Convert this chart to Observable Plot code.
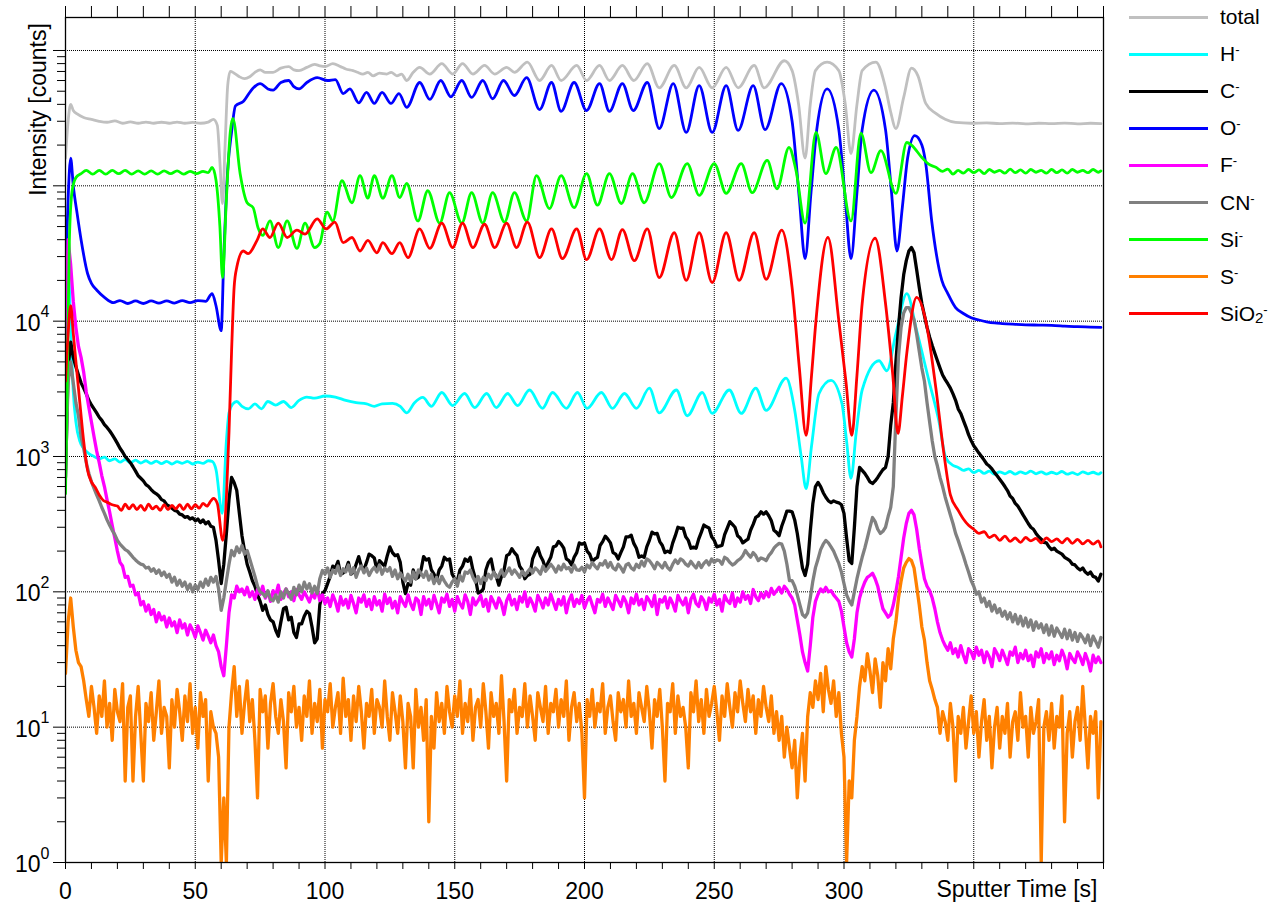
<!DOCTYPE html>
<html><head><meta charset="utf-8">
<script src="https://cdn.jsdelivr.net/npm/d3@7"></script>
<script src="https://cdn.jsdelivr.net/npm/@observablehq/plot@0.6"></script>
<style>
body{margin:0;background:#fff;font-family:"Liberation Sans",Arial,sans-serif;}
#wrap{position:relative;width:1276px;height:907px;overflow:hidden;}
#legend{position:absolute;left:1129px;top:0;width:147px;height:340px;}
.item{position:absolute;left:0;width:147px;height:2px;}
.sw{position:absolute;left:0;top:-1.5px;width:79px;height:3px;}
.lb{position:absolute;left:91px;top:-12px;font-size:21px;line-height:24px;white-space:nowrap;color:#000;}
.lb sup{font-size:13px;vertical-align:7px;line-height:0;}
.lb sub{font-size:15px;vertical-align:-2px;line-height:0;}
</style></head><body><div id="wrap"><div id="chart"></div><div id="legend"></div></div>
<script>
// ---------- data ----------
const seriesNames = ["total","H-","C-","O-","F-","CN-","Si-","S-","SiO2-"];
const seriesColors = ["#c0c0c0","#00ffff","#000000","#0000ff","#ff00ff","#808080","#00ff00","#ff8000","#ff0000"];
const legendHtml = ["total","H<sup>-</sup>","C<sup>-</sup>","O<sup>-</sup>","F<sup>-</sup>","CN<sup>-</sup>","Si<sup>-</sup>","S<sup>-</sup>","SiO<sub>2</sub><sup>-</sup>"];

const xTickLabels = [0,50,100,150,200,250,300];
const xGrid = [50,100,150,200,250,300,350];
const yDecades = [1,10,100,1000,10000,100000,1000000];
const yLabelDecades = [1,10,100,1000,10000];
const yLabelExponents = ["0","1","2","3","4"];
const xTitle = "Sputter Time [s]";
const yTitle = "Intensity [counts]";

// [time s, counts]
const totalPts = [[0,1.6e5],[1,3.0e5],[2,4.0e5],[3,3.6e5],[4.5,3.4e5],[7,3.2e5],[10,3.1e5],[13,3.0e5],[16,2.95e5],[19,3.02e5],[22,2.9e5],[25,2.97e5],[28,2.9e5],[31,2.96e5],[34,2.9e5],[37,2.95e5],[40,2.9e5],[43,2.96e5],[46,2.9e5],[49,2.94e5],[52,2.9e5],[55,2.96e5],[57,3.1e5],[58.5,2.8e5],[59.5,1.5e5],[60.5,7.4e4],[61.5,2.0e5],[62.5,5.5e5],[63.5,7.0e5],[65,6.8e5],[67,6.4e5],[69,6.2e5],[71,6.4e5],[73,6.9e5],[75,7.2e5],[77,6.9e5],[80,6.9e5],[83,7.4e5],[86,7.6e5],[88,7.2e5],[90,7.1e5],[93,7.5e5],[96,7.9e5],[98,7.7e5],[100,7.6e5],[103,8.0e5],[106,7.6e5],[108,7.3e5],[110.8,7.1e5],[112.5,6.9e5],[114.6,6.7e5],[116.5,6.9e5],[118.5,6.5e5],[121,6.8e5],[123.8,6.7e5],[125.5,6.9e5],[127.7,6.5e5],[129.5,6.7e5],[131.5,6.0e5],[134,6.9e5],[136.5,7.5e5],[140.4,6.7e5],[145,8.0e5],[149.2,6.7e5],[153,8.0e5],[157,6.7e5],[161.5,7.75e5],[165.4,6.7e5],[170,7.5e5],[173,6.9e5],[178,8.2e5],[182.7,6.0e5],[187.3,7.75e5],[191,6.0e5],[197,7.75e5],[200.8,6.0e5],[205.8,7.75e5],[209.6,6.0e5],[214.6,7.75e5],[219,6.0e5],[224.2,8.0e5],[228.8,5.3e5],[234.6,7.75e5],[239.2,5.3e5],[244.2,7.5e5],[249.2,5.3e5],[254.6,7.5e5],[259.2,5.3e5],[265.4,7.75e5],[269.2,5.3e5],[277,8.4e5],[280,7.1e5],[282.5,4.0e5],[285,1.6e5],[287,4.0e5],[289,7.1e5],[293.5,8.2e5],[298,7.1e5],[300.5,4.0e5],[302.7,1.73e5],[305,4.0e5],[307,7.1e5],[312.3,8.2e5],[316,5.3e5],[318,3.5e5],[320,2.65e5],[323,4.5e5],[326,7.4e5],[328.5,6.5e5],[331.5,4.06e5],[335.4,3.43e5],[339,3.1e5],[343,2.94e5],[349,2.9e5],[355,2.92e5],[360,2.88e5],[365,2.91e5],[370,2.87e5],[375,2.9e5],[380,2.88e5],[385,2.91e5],[390,2.87e5],[395,2.9e5],[399,2.88e5]];

const hPts = [[0,800],[0.5,1.5e4],[1.2,2.2e4],[2,9000],[3,3000],[4,1800],[5.5,1300],[7,1150],[9,1050],[11,1000],[13,960],[15,990],[17,930],[19,960],[21,910],[23,950],[25,900],[27,940],[29,895],[31,930],[33,890],[35,925],[37,885],[39,920],[41,880],[43,915],[45,890],[47,920],[49,880],[51,910],[53,890],[55,930],[56.5,920],[58,800],[60.4,380],[62,1300],[63,2100],[64.5,2450],[66,2550],[68,2350],[70.5,2250],[73,2450],[75.5,2250],[78,2550],[81,2400],[84,2550],[87,2300],[90,2600],[93,2750],[96,2700],[100,2800],[104,2750],[108,2600],[112,2500],[116,2450],[119,2350],[122,2450],[126,2470],[129,2350],[131.5,2100],[134.5,2500],[137.7,2730],[141,2350],[145,2970],[149.2,2380],[153.8,2920],[157.7,2300],[162.3,2920],[166,2300],[170.4,2920],[174.2,2380],[178.8,3100],[183.8,2270],[187.7,2970],[193,2270],[197.3,2970],[201,2270],[206.5,2970],[210.8,2270],[215.4,2920],[220,2270],[225,3200],[228.8,2100],[235.4,3100],[239.6,2000],[245.4,2970],[249.2,2080],[255.8,3100],[260.4,2080],[266,3200],[270,2190],[277.7,3800],[281,2200],[283.5,1000],[285.4,580],[287.5,1200],[290.4,2920],[295,3650],[299.2,2470],[301,1300],[302.7,690],[304.7,1500],[307,3100],[313.5,5100],[316.5,4300],[320,8100],[324.2,1.6e4],[328,8500],[332.7,3650],[336.5,1850],[339.2,980],[342,860],[344,830],[346,790],[348,810],[350,760],[352,790],[354,750],[356,780],[358,740],[360,770],[362,745],[364,775],[366,740],[368,770],[370,748],[372,780],[374,745],[376,770],[378,740],[380,765],[382,745],[384,775],[386,740],[388,760],[390,735],[392,770],[394,745],[396,765],[398,740],[399,760]];

const oPts = [[0,2.0e4],[1,8e4],[2,1.6e5],[3,1.0e5],[4.5,6.2e4],[6,4.0e4],[8.5,2.25e4],[10,1.9e4],[12,1.7e4],[15,1.5e4],[18.5,1.37e4],[21,1.42e4],[24,1.35e4],[27,1.41e4],[30,1.35e4],[33,1.41e4],[36,1.36e4],[39,1.41e4],[42,1.36e4],[45,1.42e4],[48,1.37e4],[51,1.42e4],[54,1.4e4],[56.5,1.6e4],[58,1.3e4],[60,8.5e3],[61,3.0e4],[62.5,1.3e5],[64,2.5e5],[65.5,3.9e5],[68.5,4.2e5],[72,5.2e5],[75,5.7e5],[78,5.2e5],[80,5.1e5],[83,5.8e5],[86,6.0e5],[88,5.4e5],[90,5.2e5],[93,5.8e5],[97,6.3e5],[101,6.0e5],[104,6.1e5],[107,4.8e5],[109.6,5.2e5],[113,4.1e5],[116,4.9e5],[119,4.06e5],[122,4.9e5],[125.4,4.06e5],[128.5,4.8e5],[131.5,3.8e5],[136.5,5.8e5],[140.4,4.35e5],[144.6,6.0e5],[148.5,4.55e5],[152.7,6.0e5],[156.5,4.5e5],[160.8,6.0e5],[164.6,4.4e5],[168.8,6.0e5],[173,4.65e5],[177.7,6.3e5],[182.7,3.66e5],[187.3,5.8e5],[191,3.55e5],[196,5.8e5],[200.8,3.6e5],[205.8,5.7e5],[209.6,3.55e5],[214.6,5.7e5],[218.8,3.6e5],[224.2,5.8e5],[228.8,2.65e5],[234.2,5.7e5],[239.2,2.48e5],[244.2,5.5e5],[249.2,2.48e5],[254.6,5.5e5],[259.2,2.57e5],[265,5.5e5],[269.6,2.6e5],[275.8,5.7e5],[280,3.0e5],[282.8,8e4],[285,2.9e4],[287.3,9e4],[289.5,2.6e5],[293.5,5.2e5],[298,2.6e5],[300.5,8e4],[302.7,2.9e4],[305,9e4],[307,2.6e5],[311.5,5.1e5],[316,2.6e5],[318.3,9e4],[320.4,3.3e4],[322.5,7e4],[324.5,1.6e5],[327.3,2.35e5],[330,2.0e5],[331.5,1.46e5],[333.8,5.5e4],[337.7,2.0e4],[340,1.6e4],[343,1.26e4],[346,1.14e4],[349,1.06e4],[352,1.02e4],[355,9.9e3],[358,9.7e3],[361,9.6e3],[365,9.5e3],[370,9.4e3],[375,9.35e3],[380,9.3e3],[385,9.2e3],[390,9.1e3],[395,9.05e3],[399,9.0e3]];

const siPts = [[0,530],[0.8,5e3],[1.5,4e4],[2.5,9e4],[4,1.15e5],[6,1.23e5],[8,1.3e5],[10.5,1.22e5],[13,1.3e5],[15.5,1.22e5],[18,1.3e5],[20.5,1.23e5],[23,1.3e5],[25.5,1.22e5],[28,1.29e5],[30.5,1.22e5],[33,1.29e5],[35.5,1.22e5],[38,1.29e5],[40.5,1.23e5],[43,1.29e5],[45.5,1.22e5],[48,1.28e5],[50.5,1.23e5],[53,1.28e5],[55,1.25e5],[56.5,1.37e5],[58,1.1e5],[59.5,5e4],[60.5,2.1e4],[62,8e4],[63.5,2.5e5],[64.5,3.15e5],[67.3,1.23e5],[70,7.5e4],[72.3,6.9e4],[74.2,4.9e4],[76,4.3e4],[78.8,5.5e4],[82,3.5e4],[85.4,5.5e4],[89.2,3.45e4],[92.3,5.3e4],[96,3.5e4],[98,3.75e4],[100.8,6.4e4],[103,5.5e4],[106.5,1.09e5],[110.4,7.5e4],[113.5,1.19e5],[116.5,8.1e4],[119,1.19e5],[122.3,8.1e4],[125.8,1.19e5],[128.8,8.2e4],[131.5,1.04e5],[135.8,5.5e4],[139.6,9.2e4],[144.2,5.3e4],[148,8.9e4],[152.7,5.3e4],[156.5,8.9e4],[160.8,5.3e4],[164.6,8.9e4],[169.2,5.4e4],[173,8.9e4],[177.7,5.5e4],[181.5,1.19e5],[186.5,6.8e4],[191,1.19e5],[196,6.9e4],[200.8,1.23e5],[205,7.2e4],[209.6,1.23e5],[214.2,7.4e4],[218.5,1.23e5],[223,7.5e4],[228.8,1.46e5],[233.5,8.2e4],[239.6,1.46e5],[244.2,8.5e4],[250,1.46e5],[254.6,8.8e4],[260.4,1.46e5],[264.6,8.9e4],[270.4,1.54e5],[274.2,9.5e4],[278.8,1.92e5],[281.5,1.3e5],[285,5.3e4],[289.2,2.48e5],[293,1.23e5],[297,1.92e5],[302.7,5.5e4],[306.5,2.45e5],[310.4,1.25e5],[314.2,1.82e5],[320,8.8e4],[324.2,2.09e5],[326,2.0e5],[330,1.62e5],[332.5,1.45e5],[335.4,1.37e5],[338,1.28e5],[340,1.33e5],[342,1.22e5],[344,1.3e5],[346,1.24e5],[348,1.32e5],[350,1.25e5],[352,1.31e5],[354,1.23e5],[356,1.32e5],[358,1.26e5],[360,1.3e5],[362,1.24e5],[364,1.33e5],[366,1.25e5],[368,1.31e5],[370,1.24e5],[372,1.32e5],[374,1.26e5],[376,1.3e5],[378,1.24e5],[380,1.32e5],[382,1.25e5],[384,1.31e5],[386,1.24e5],[388,1.32e5],[390,1.26e5],[392,1.3e5],[394,1.25e5],[396,1.32e5],[398,1.26e5],[399,1.29e5]];

const sio2Pts = [[0,3.6e3],[1,8e3],[2,1.3e4],[3,8.1e3],[4.5,4e3],[5.8,2.2e3],[7,1.3e3],[8.5,790],[10,650],[11.5,590],[13,520],[14.6,473],[16,460],[18,440],[20,430],[21.5,400],[23,445],[24.5,410],[26,440],[27.5,405],[29,435],[30.5,400],[32,445],[33.5,410],[35,430],[36.5,400],[38,440],[39.5,405],[41,435],[42.5,410],[44,440],[45.5,405],[47,445],[48.5,410],[50,440],[51.5,415],[53,450],[54.5,430],[56,470],[57,490],[58.5,450],[60.6,240],[62,500],[63,1500],[64,6000],[65,1.8e4],[66,2.5e4],[68.5,3.3e4],[70.4,3.15e4],[73.8,3.95e4],[76,4.8e4],[78.8,4.15e4],[82,5.3e4],[85.4,4.15e4],[89.2,4.7e4],[92.3,4.4e4],[97,5.7e4],[100.4,4.8e4],[103.8,5.4e4],[107,3.8e4],[110.4,4.15e4],[113.5,3.3e4],[116.5,3.95e4],[120,3.2e4],[122.3,3.8e4],[125.8,3.15e4],[128.8,3.8e4],[132,2.95e4],[136.5,4.8e4],[140.4,3.45e4],[145,5.3e4],[149.2,3.5e4],[153,5.3e4],[157,3.5e4],[161.5,5.2e4],[165.4,3.5e4],[170,5.3e4],[173.8,3.5e4],[178,5.4e4],[182.7,2.95e4],[187.3,4.8e4],[191.5,2.9e4],[197,4.8e4],[200.8,2.85e4],[205.8,4.8e4],[210.4,2.85e4],[214.6,4.75e4],[219.2,2.8e4],[224.2,4.8e4],[228.8,2.1e4],[234.6,4.5e4],[239.2,2.0e4],[244.2,4.5e4],[249.2,1.93e4],[254.6,4.5e4],[259.6,2.0e4],[265.4,4.5e4],[270,2.04e4],[276,4.7e4],[280,1.77e4],[282.8,4.5e3],[285.4,1.43e3],[287.5,4e3],[289.2,1.01e4],[293.8,4.15e4],[298,1.01e4],[300.8,3.5e3],[303,1.43e3],[305,4e3],[307,1.35e4],[312,4.1e4],[316,1.35e4],[318.8,4e3],[320.8,1.48e3],[322.5,2.8e3],[324.2,5.8e3],[328,1.5e4],[331.5,1.01e4],[335.4,3.2e3],[338.5,1.05e3],[341,520],[344,400],[346,345],[348,310],[350,290],[352,270],[354,278],[356,252],[358,262],[360,240],[362,258],[364,236],[366,250],[368,232],[370,252],[372,238],[374,248],[376,230],[378,250],[380,235],[382,246],[384,230],[386,248],[388,228],[390,244],[392,226],[394,240],[396,225],[398,238],[399,215]];

// one value per second, t = 0..399
const cVals = [700,4500,7000,5400,4600,4000,3500,3200,2900,2600,
2400,2250,2100,1950,1850,1720,1640,1550,1450,1350,
1250,1150,1080,1000,950,900,840,780,720,690,
660,620,600,570,545,530,510,480,470,440,
430,415,400,395,375,370,355,360,345,352,
335,345,325,340,318,330,305,300,240,170,
115,160,270,480,700,640,560,380,260,200,
160,140,121,110,95,85,73,80,68,62,
60,52,47,60,75,77,62,65,50,46,
58,58,66,72,69,55,42,45,80,97,
102,115,130,155,150,168,135,138,145,165,
135,140,160,182,155,145,165,190,185,178,
145,170,162,155,185,215,195,185,188,165,
118,97,115,112,145,125,128,145,182,172,
176,145,135,122,145,155,180,172,175,135,
125,120,145,155,175,168,180,145,125,98,
100,105,145,165,175,140,130,112,130,145,
185,190,208,195,185,155,145,125,132,135,
175,195,212,185,170,148,165,180,215,218,
236,225,210,175,170,158,180,195,230,225,
230,200,190,168,175,180,220,235,258,245,
230,195,190,175,195,215,255,255,262,228,
210,180,184,180,215,240,276,268,270,235,
220,195,200,195,230,260,300,295,296,255,
240,210,214,210,245,275,312,302,296,255,
240,215,218,220,265,295,330,315,300,260,
250,230,238,245,285,315,355,365,390,375,
390,365,335,285,275,260,305,345,395,395,
390,340,270,200,150,132,160,280,450,600,
643,600,540,500,470,457,470,460,455,440,
380,250,170,162,300,600,830,790,750,700,
650,632,660,700,750,800,830,1000,1700,2500,
5000,9000,15000,22000,28000,33000,35000,32000,24000,17700,
13500,11000,9000,7600,6600,5800,5100,4500,4000,3700,
3450,3200,2900,2600,2250,2080,1850,1650,1450,1310,
1200,1130,1060,1000,940,880,850,810,760,720,
680,640,600,560,510,490,450,430,400,370,
345,320,300,290,270,255,245,232,230,215,
205,210,200,195,190,180,175,170,160,158,
150,145,150,140,135,140,130,128,120,135];

const fVals = [8000,40000,26000,14000,9000,6500,5400,4200,3000,2300,
1800,1400,1100,900,720,600,480,390,310,250,
200,165,155,128,130,110,112,95,98,80,
85,72,80,68,74,60,70,62,66,55,
64,56,60,50,62,54,58,48,57,52,
46,56,50,44,52,47,42,48,40,36,
28,24,40,70,95,90,110,100,105,95,
108,92,100,88,104,96,110,90,100,85,
102,94,112,88,98,105,92,100,86,104,
95,88,100,92,84,97,90,106,86,95,
82,90,78,95,85,72,92,80,88,76,
94,82,70,90,84,95,78,88,74,92,
80,86,72,96,82,90,76,85,70,92,
84,78,95,82,74,90,86,68,92,80,
88,75,94,82,70,90,84,96,78,88,
72,92,82,76,95,85,68,90,80,86,
94,78,88,72,92,84,76,90,82,68,
86,95,80,88,74,92,84,100,78,90,
82,72,94,86,76,90,80,96,84,74,
88,80,92,70,86,95,78,88,82,94,
76,86,92,80,70,88,84,96,78,90,
82,74,94,86,78,92,84,70,90,82,
96,80,88,74,92,86,78,94,68,88,
84,92,76,90,82,72,94,86,80,90,
70,88,96,82,78,92,86,74,90,84,
96,80,88,72,94,86,82,98,78,90,
84,100,88,94,82,104,92,86,98,90,
100,92,106,96,102,108,98,110,104,96,
90,80,62,48,36,30,26,40,65,85,
96,105,100,108,100,102,95,90,85,72,
55,42,36,33,45,70,90,105,118,128,
132,137,125,110,90,75,70,65,68,80,
100,130,180,250,320,380,400,370,290,210,
160,125,110,102,90,75,60,50,44,40,
37,42,35,38,33,40,34,30,38,36,
32,39,34,37,30,36,33,28,38,35,
31,37,33,29,36,34,39,30,35,32,
37,31,34,28,36,33,38,30,35,32,
36,29,34,31,37,33,27,35,32,30,
36,33,29,35,31,26,34,30,33,30];

const cnVals = [800,3500,5000,3500,2500,2000,1400,1150,900,750,
650,580,520,470,420,380,340,310,285,265,
240,225,215,205,200,190,180,172,165,160,
158,150,152,142,148,137,145,132,140,128,
135,118,128,112,122,110,118,104,114,100,
112,104,118,108,124,112,128,118,130,105,
73,90,121,160,202,185,215,195,220,190,
202,175,151,130,110,100,97,92,102,88,
86,95,84,100,90,105,97,88,108,95,
112,100,118,105,115,98,110,97,125,144,
135,150,128,145,137,155,132,148,140,158,
135,151,128,145,155,138,150,132,144,152,
140,158,135,150,142,151,130,145,125,138,
128,120,135,118,140,125,145,137,128,142,
122,135,115,128,115,130,120,112,108,118,
125,110,132,120,140,137,145,128,118,130,
115,128,121,135,125,140,128,132,145,130,
140,150,135,145,137,128,142,132,140,148,
138,150,144,135,155,142,150,160,151,140,
155,145,160,148,151,140,158,145,144,152,
140,158,150,165,155,148,162,158,170,152,
165,150,145,160,151,140,158,162,150,145,
160,151,168,155,175,170,160,148,165,158,
150,165,151,145,160,172,162,175,170,160,
155,168,158,150,165,151,162,170,158,175,
165,172,170,160,180,175,165,158,162,170,
175,185,202,190,180,195,185,170,178,175,
170,185,195,210,220,228,225,200,160,121,
121,110,95,80,68,65,70,90,120,151,
175,205,225,240,230,215,200,180,162,140,
115,95,86,80,100,125,151,180,210,250,
300,354,330,290,270,280,300,360,420,600,
2000,5500,9000,11500,12600,12600,11500,10200,8000,6000,
4500,3600,2500,1800,1300,1000,850,700,600,500,
430,370,320,270,240,210,185,160,140,121,
110,96,100,84,90,78,85,72,80,70,
75,66,72,63,70,60,68,58,66,56,
64,55,62,52,60,54,58,50,57,48,
56,47,54,50,46,53,45,52,44,50,
43,49,46,42,48,40,47,43,39,46];

const sVals = [25,60,90,55,37,30,28,22,16,12,
20,14,9,17,12,22,10,15,8,19,
13,11,21,4,14,17,4,12,20,9,
4,15,11,18,8,13,22,9,14,12,
5,16,10,19,13,8,17,11,21,9,
14,7,18,12,16,4,13,10,9,6,
1,3,1,10,18,28,12,20,9,15,
22,11,16,8,3,19,13,17,7,15,
21,12,9,16,11,5,18,13,20,10,
14,8,17,12,22,9,15,11,19,7,
16,13,21,10,14,18,9,23,12,16,
8,17,11,20,13,7,15,12,19,9,
16,14,10,22,12,8,18,13,9,17,
11,5,15,12,5,19,10,14,8,16,
2,12,7,18,11,15,9,20,13,10,
17,12,22,9,15,11,19,8,14,16,
10,21,13,7,18,12,15,9,24,11,
4,16,13,19,9,14,12,21,10,17,
12,8,18,14,11,20,9,15,13,19,
10,16,12,22,8,14,18,11,15,9,
3,16,12,19,10,15,13,21,9,14,
17,11,8,18,13,16,10,22,12,15,
9,18,14,11,20,13,7,16,12,19,
10,4,15,13,21,9,17,12,14,10,
5,18,13,22,11,16,9,19,12,15,
20,13,8,17,12,21,14,10,18,13,
22,15,11,19,13,17,9,16,12,20,
14,11,17,9,13,8,12,6,10,7,
5,8,3,6,9,4,12,18,14,22,
16,25,13,28,19,15,22,12,18,9,
6,1,4,3,8,12,20,28,22,35,
26,18,32,24,14,30,22,38,27,45,
60,90,120,150,165,176,170,150,110,80,
55,44,30,22,19,16,14,9,13,11,
8,15,10,4,12,9,14,7,11,17,
9,13,6,11,16,8,12,5,10,14,
7,12,9,15,6,11,13,8,18,10,
12,6,14,9,11,16,1,10,13,8,
15,7,12,10,17,2,9,13,6,11,
14,8,20,10,5,12,9,13,3,11];

// ---------- build table ----------
const rows = [];
const pairSeries = {"total":totalPts,"H-":hPts,"O-":oPts,"Si-":siPts,"SiO2-":sio2Pts};
const denseSeries = {"C-":cVals,"F-":fVals,"CN-":cnVals,"S-":sVals};
for (const [name, pts] of Object.entries(pairSeries)) for (const [t, v] of pts) rows.push({series: name, t, v});
for (const [name, vals] of Object.entries(denseSeries)) vals.forEach((v, i) => rows.push({series: name, t: i, v}));

const xMinor = d3.range(0, 401, 10);
const yMinor = [];
for (const d of yDecades) for (let k = 2; k <= 9; k++) if (d * k < 1.75e6) yMinor.push(d * k);

const lineMarks = seriesNames.map((name, i) => Plot.line(rows.filter(d => d.series === name), {
  x: "t", y: "v", stroke: seriesColors[i],
  strokeWidth: pairSeries[name] ? 2.8 : 3.3,
  curve: pairSeries[name] ? "monotone-x" : "linear", clip: true
}));

const chart = Plot.plot({
  width: 1276, height: 907,
  marginLeft: 65, marginRight: 173, marginTop: 17, marginBottom: 45,
  style: {fontFamily: "'Liberation Sans', Arial, sans-serif", background: "#fff", color: "#000"},
  x: {domain: [0, 400]},
  y: {type: "log", domain: [1, 1.753e6]},
  marks: [
    Plot.ruleX(xGrid, {x: d => d, stroke: "#000", strokeWidth: 1, strokeDasharray: "1,1"}),
    Plot.ruleY(yDecades.slice(1), {y: d => d, stroke: "#000", strokeWidth: 1, strokeDasharray: "1,1"}),
    ...lineMarks,
    Plot.frame({stroke: "#000", strokeWidth: 1.3}),
    Plot.axisX({anchor: "bottom", ticks: xMinor, tickSize: 7, tickFormat: () => "", label: null, stroke: "#000"}),
    Plot.axisX({anchor: "top", ticks: xMinor, tickSize: 12, tickFormat: () => "", label: null, stroke: "#000"}),
    Plot.axisY({anchor: "left", ticks: yDecades, tickSize: 12, tickFormat: () => "", label: null, stroke: "#000"}),
    Plot.axisY({anchor: "left", ticks: yMinor, tickSize: 8, tickFormat: () => "", label: null, stroke: "#000"}),
    Plot.text(xTickLabels, {x: d => d, text: d => String(d), frameAnchor: "bottom", lineAnchor: "middle", textAnchor: "middle", dy: 29, fontSize: 23, fill: "#000"}),
    Plot.text([xTitle], {text: d => d, frameAnchor: "bottom-right", lineAnchor: "middle", textAnchor: "end", dx: -6, dy: 27, fontSize: 23, fill: "#000"}),
    Plot.text(yLabelDecades, {y: d => d, text: () => "10", frameAnchor: "left", lineAnchor: "middle", textAnchor: "end", dx: -25, dy: 2, fontSize: 23, fill: "#000"}),
    Plot.text(yLabelDecades, {y: d => d, text: (d, i) => yLabelExponents[i], frameAnchor: "left", lineAnchor: "middle", textAnchor: "start", dx: -25, dy: -9, fontSize: 16, fill: "#000"}),
    Plot.text([yTitle], {text: d => d, frameAnchor: "top-left", lineAnchor: "middle", textAnchor: "middle", rotate: -90, dx: -27, dy: 92, fontSize: 23, fill: "#000"})
  ]
});
document.getElementById("chart").appendChild(chart);

// legend
const legend = document.getElementById("legend");
const rowTops = seriesNames.map((_, i) => 17 + i * 37.1);
seriesNames.forEach((name, i) => {
  const it = document.createElement("div");
  it.className = "item";
  it.style.top = rowTops[i] + "px";
  it.innerHTML = `<div class="sw" style="background:${seriesColors[i]}"></div><div class="lb">${legendHtml[i]}</div>`;
  legend.appendChild(it);
});
</script></body></html>
